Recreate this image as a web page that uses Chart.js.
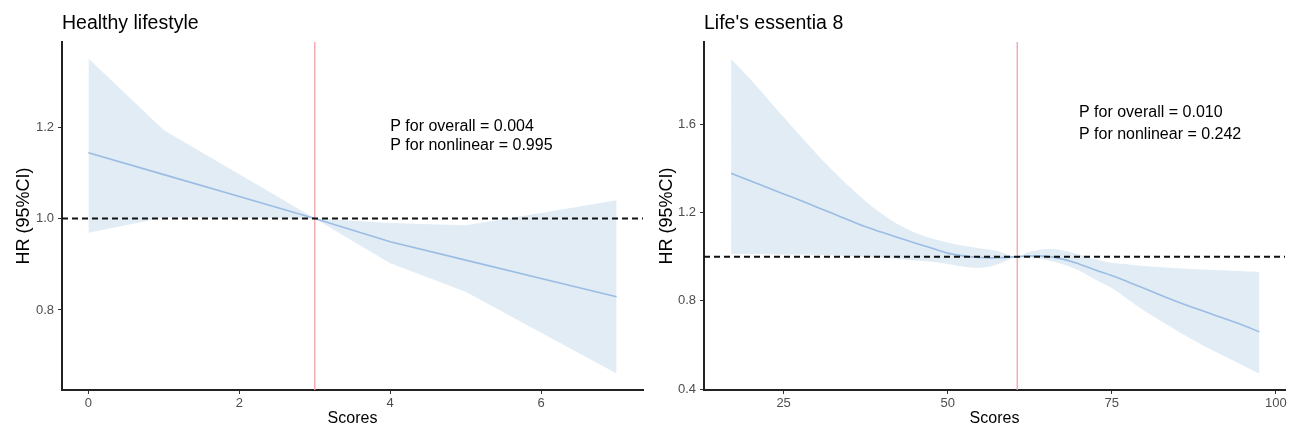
<!DOCTYPE html>
<html>
<head>
<meta charset="utf-8">
<script src="https://cdn.jsdelivr.net/npm/chart.js@4.4.0/dist/chart.umd.min.js"></script>
<style>
    html, body { margin: 0; padding: 0; background: #fff; }
    #wrap  { position: relative; width: 1293px; height: 431px; }
    .panel { position: absolute; top: 0; height: 431px; }
    #left  { left: 0;     width: 646px; }
    #right { left: 646px; width: 647px; }
</style>
</head>
<body>
<div id="wrap">
    <div class="panel" id="left"><canvas id="hlChart" width="646" height="431"></canvas></div>
    <div class="panel" id="right"><canvas id="le8Chart" width="647" height="431"></canvas></div>
</div>
<script>
// ═══ 데이터: Healthy lifestyle ═══
const hlTitle   = 'Healthy lifestyle';
const hlScores  = [0, 1, 2, 3, 4, 5, 6, 7];
const hlHR      = [1.144, 1.096, 1.048, 1.0, 0.949, 0.909, 0.869, 0.829];
const hlLower   = [0.969, 1.002, 1.001, 1.0, 0.902, 0.840, 0.750, 0.661];
const hlUpper   = [1.350, 1.193, 1.097, 1.0, 0.990, 0.985, 1.012, 1.040];
const hlKnot    = 3;
const hlPText   = ['P for overall = 0.004', 'P for nonlinear = 0.995'];
const hlPAnchor = [4, 1.18];
const hlXRange  = [-0.35, 7.35];
const hlYRange  = [0.625, 1.386];
const hlXTicks  = 2;
const hlYTicks  = 0.2;

// ═══ 데이터: Life's essential 8 ═══
const le8Title   = "Life's essentia 8";
const le8Scores  = [17, 20, 22.5, 25, 27.5, 30, 32.5, 35, 37.5, 40, 42.5, 45, 47.5, 50, 52.5, 55, 57.5,
                    60.6, 62.5, 65, 67.5, 70, 72.5, 75, 77.5, 80, 85, 90, 95, 97.5];
const le8HR      = [1.377, 1.342, 1.313, 1.284, 1.255, 1.225, 1.195, 1.165, 1.135, 1.110, 1.086, 1.062, 1.039, 1.016, 1.003, 0.996, 0.995,
                    1.000, 1.003, 1.002, 0.989, 0.967, 0.940, 0.915, 0.886, 0.856, 0.796, 0.743, 0.690, 0.660];
const le8Lower   = [1.012, 1.012, 1.011, 1.010, 1.010, 1.008, 1.006, 1.003, 0.999, 0.995, 0.990, 0.984, 0.977, 0.967, 0.955, 0.950, 0.965,
                    1.000, 0.996, 0.985, 0.966, 0.938, 0.897, 0.858, 0.806, 0.755, 0.664, 0.582, 0.508, 0.471];
const le8Upper   = [1.894, 1.800, 1.716, 1.632, 1.548, 1.466, 1.389, 1.317, 1.251, 1.193, 1.145, 1.109, 1.083, 1.064, 1.049, 1.037, 1.026,
                    1.000, 1.022, 1.034, 1.028, 1.010, 0.988, 0.972, 0.965, 0.958, 0.948, 0.941, 0.934, 0.931];
const le8Knot    = 60.6;
const le8PText   = ['P for overall = 0.010', 'P for nonlinear = 0.242'];
const le8PAnchor = [70, 1.6];
const le8XRange  = [12.87, 101.4];
const le8YRange  = [0.397, 1.971];
const le8XTicks  = 25;
const le8YTicks  = 0.4;

const refHR = 1;

// ═══ 스타일 ═══
const FONT      = '"Liberation Sans", Arial, Helvetica, sans-serif';
const RIBBON    = 'rgba(198, 219, 236, 0.52)';
const LINE_BLUE = '#9bbde4';
const KNOT_RED  = '#f2a1a7';

/**
 * 제목과 P값 텍스트를 그리는 플러그인
 */
function textPlugin(title, pText, pAnchor, lineGap) {
    return {
        id: 'panelText',
        afterDraw(chart) {
            const { ctx, chartArea, scales } = chart;
            ctx.save();
            ctx.fillStyle    = '#000';
            ctx.textAlign    = 'left';
            ctx.textBaseline = 'middle';
            ctx.font = '19.5px ' + FONT;
            ctx.fillText(title, chartArea.left, 24);

            ctx.font = '16px ' + FONT;
            const px = scales.x.getPixelForValue(pAnchor[0]);
            const py = scales.y.getPixelForValue(pAnchor[1]);
            pText.forEach((t, i) => {
                ctx.fillText(t, px, py + (i - (pText.length - 1) / 2) * lineGap);
            });
            ctx.restore();
        }
    };
}

function toPoints(xs, ys) {
    return xs.map((x, i) => ({ x: x, y: ys[i] }));
}

function makePanel(id, cfg) {
    const ctx     = document.getElementById(id).getContext('2d');
    const tension = cfg.smooth ? 0.4 : 0;
    return new Chart(ctx, {
        type: 'line',
        data: {
            datasets: [
                {   // HR = 1 기준선
                    data: [{ x: cfg.xRange[0], y: refHR }, { x: cfg.xRange[1], y: refHR }],
                    borderColor: '#111', borderWidth: 2, borderDash: [6, 4],
                    pointRadius: 0, fill: false
                },
                {   // 기준점 수직선
                    data: [{ x: cfg.knot, y: cfg.yRange[0] }, { x: cfg.knot, y: cfg.yRange[1] }],
                    borderColor: KNOT_RED, borderWidth: 1.3,
                    pointRadius: 0, fill: false
                },
                {
                    data: toPoints(cfg.scores, cfg.hr),
                    borderColor: LINE_BLUE, borderWidth: 1.6,
                    pointRadius: 0, fill: false, tension: tension
                },
                {
                    data: toPoints(cfg.scores, cfg.upper),
                    borderWidth: 0, borderColor: 'transparent',
                    backgroundColor: RIBBON,
                    pointRadius: 0, fill: '+1', tension: tension
                },
                {
                    data: toPoints(cfg.scores, cfg.lower),
                    borderWidth: 0, borderColor: 'transparent',
                    pointRadius: 0, fill: false, tension: tension
                }
            ]
        },
        options: {
            responsive: false,
            animation: false,
            devicePixelRatio: 1,
            layout: { padding: { top: 42, right: cfg.padRight, left: 0, bottom: 0 } },
            plugins: { legend: { display: false }, tooltip: { enabled: false } },
            scales: {
                x: {
                    type: 'linear',
                    min: cfg.xRange[0], max: cfg.xRange[1],
                    afterFit: s => { s.height = 41; },
                    border: { color: '#222', width: 2 },
                    grid: { drawOnChartArea: false, tickLength: 4, tickColor: '#333', tickWidth: 1 },
                    ticks: {
                        stepSize: cfg.xStep, includeBounds: false, padding: 2,
                        color: '#4d4d4d', font: { family: FONT, size: 13 },
                        callback: v => String(v)
                    },
                    title: {
                        display: true, text: 'Scores', color: '#000',
                        font: { family: FONT, size: 16 },
                        padding: { top: 0, bottom: 2.4 }
                    }
                },
                y: {
                    type: 'linear',
                    min: cfg.yRange[0], max: cfg.yRange[1],
                    afterFit: s => { s.width = cfg.yWidth; },
                    border: { color: '#222', width: 2 },
                    grid: { drawOnChartArea: false, tickLength: 4, tickColor: '#333', tickWidth: 1 },
                    ticks: {
                        stepSize: cfg.yStep, includeBounds: false, padding: 4,
                        color: '#4d4d4d', font: { family: FONT, size: 13 },
                        callback: v => Number(v).toFixed(1)
                    },
                    title: {
                        display: true, text: 'HR (95%CI)', color: '#000',
                        font: { family: FONT, size: 18 },
                        padding: { top: cfg.yTitlePad, bottom: 0 }
                    }
                }
            }
        },
        plugins: [textPlugin(cfg.title, cfg.pText, cfg.pAnchor, cfg.lineGap)]
    });
}

makePanel('hlChart', {
    title: hlTitle, scores: hlScores, hr: hlHR, lower: hlLower, upper: hlUpper,
    knot: hlKnot, pText: hlPText, pAnchor: hlPAnchor, lineGap: 19,
    xRange: hlXRange, yRange: hlYRange, xStep: hlXTicks, yStep: hlYTicks,
    smooth: false, padRight: 3, yWidth: 62, yTitlePad: 13
});

makePanel('le8Chart', {
    title: le8Title, scores: le8Scores, hr: le8HR, lower: le8Lower, upper: le8Upper,
    knot: le8Knot, pText: le8PText, pAnchor: le8PAnchor, lineGap: 22,
    xRange: le8XRange, yRange: le8YRange, xStep: le8XTicks, yStep: le8YTicks,
    smooth: true, padRight: 8, yWidth: 58, yTitlePad: 10
});
</script>
</body>
</html>
